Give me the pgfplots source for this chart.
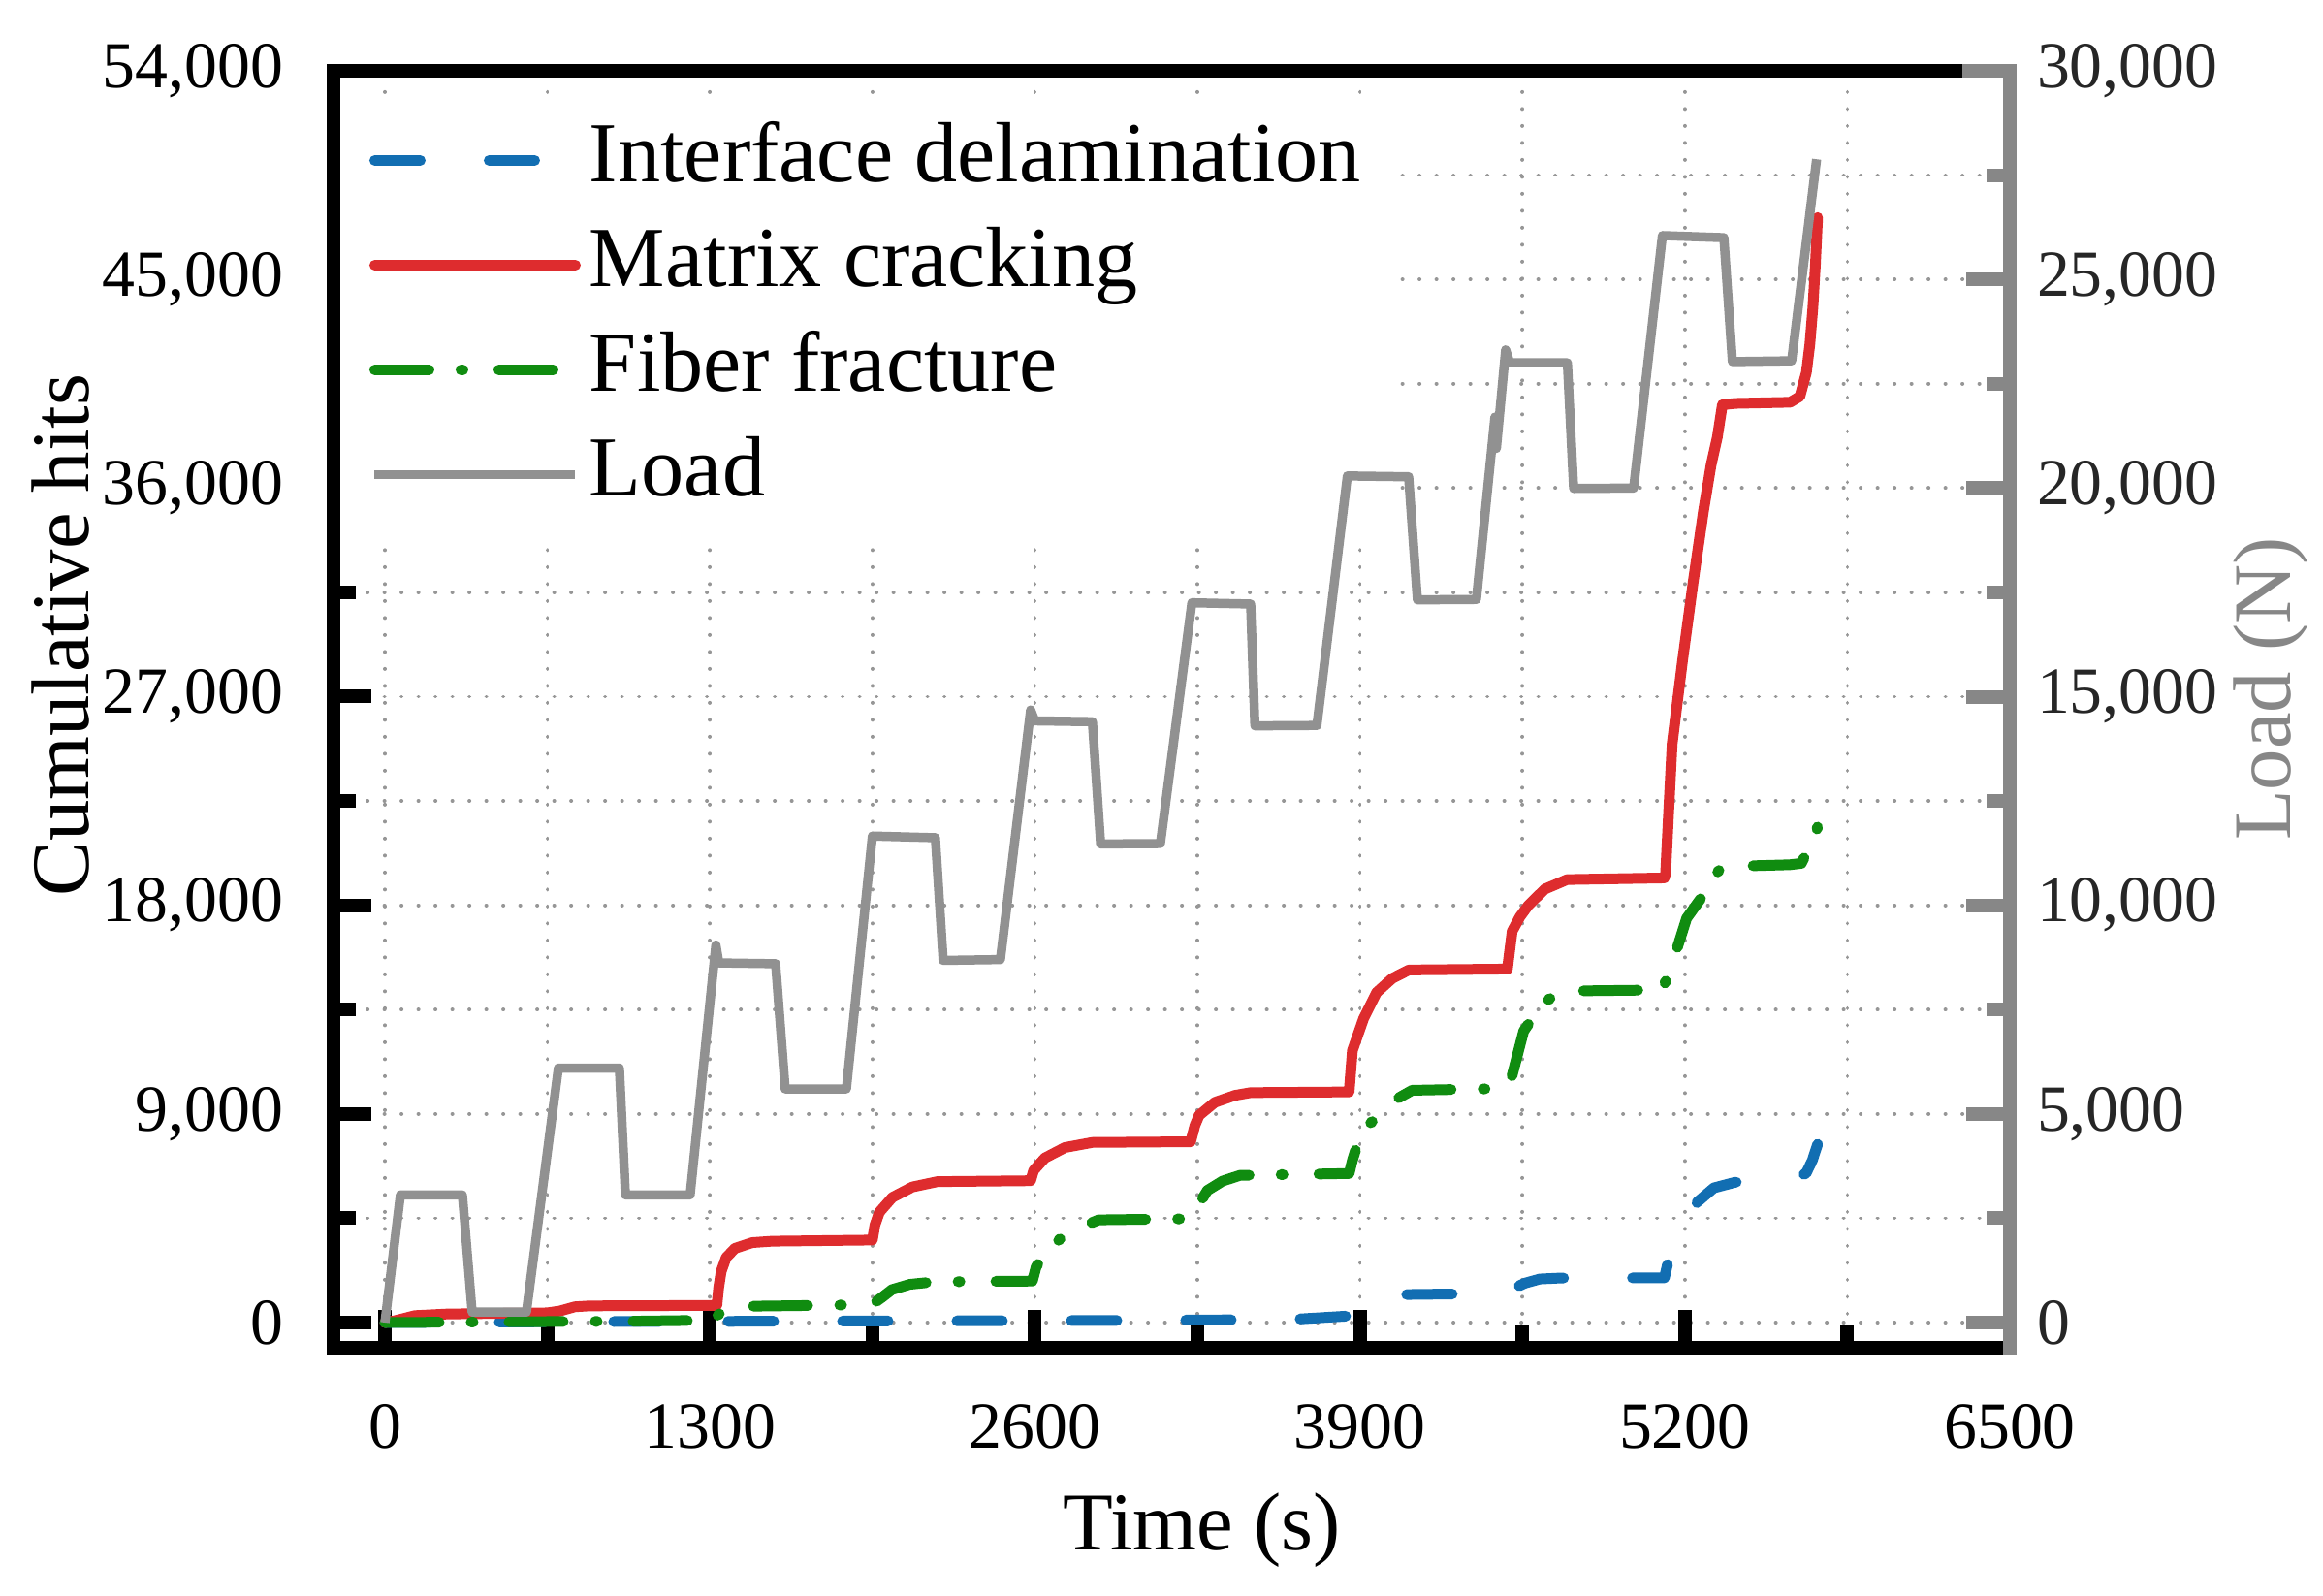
\documentclass[border=0pt]{standalone}
\usepackage{pgfplots}
\pgfplotsset{compat=1.18}
\usepackage{pgfplotstable}
\usepackage{fontspec}
\setmainfont{Liberation Serif}

\definecolor{blueC}{RGB}{18,110,178}
\definecolor{redC}{RGB}{222,44,46}
\definecolor{greenC}{RGB}{16,140,16}
\definecolor{loadC}{RGB}{145,145,145}
\definecolor{loadaxC}{RGB}{135,135,135}
\definecolor{gridC}{RGB}{150,150,150}

\pgfplotstableread{
t h
0 0
300 20
800 40
1300 50
2000 70
2600 80
3300 110
3650 150
3850 280
3890 400
3920 800
3950 1100
4000 1200
4480 1260
4520 1500
4560 1700
4620 1880
4700 1920
5118 1930
5137 2800
5207 4430
5250 5200
5316 5810
5400 6050
5505 6140
5630 6180
5685 6440
5710 7000
5731 7690
}\blued

\pgfplotstableread{
t h
0 0
40 80
120 300
250 370
650 420
700 500
760 680
820 720
1328 740
1335 1500
1345 2200
1365 2800
1400 3200
1470 3450
1550 3510
1950 3560
1960 4200
1978 4760
2030 5400
2110 5850
2210 6080
2583 6120
2595 6560
2640 7100
2720 7550
2830 7770
3223 7800
3240 8500
3257 8940
3320 9500
3400 9800
3463 9920
3857 9950
3870 11730
3915 13120
3967 14240
4030 14850
4096 15210
4490 15250
4509 16880
4540 17500
4574 18000
4640 18700
4729 19110
5118 19180
5123 19390
5135 22000
5149 24960
5190 28500
5233 31930
5274 34980
5305 37000
5330 38200
5350 39590
5400 39650
5621 39700
5660 39950
5686 40980
5700 42200
5712 43770
5722 45600
5731 47670
}\redd

\pgfplotstableread{
t h
0 0
300 20
600 40
1000 60
1300 100
1330 300
1350 500
1420 700
1800 750
1950 790
1990 1100
2028 1420
2100 1650
2200 1760
2590 1790
2605 2400
2641 3000
2700 3600
2780 4100
2855 4430
3230 4480
3250 5000
3290 5700
3350 6100
3420 6350
3857 6430
3870 7000
3896 7900
3930 8500
3980 8940
4040 9600
4109 10020
4490 10100
4505 10500
4555 12570
4607 13400
4650 13900
4704 14300
5110 14350
5150 15500
5207 17440
5272 18415
5320 19300
5350 19670
5620 19750
5666 19810
5724 21060
5731 21400
}\greend

\pgfplotstableread{
t l
0 0
62 3060
310 3060
349 250
566 250
694 6100
938 6100
962 3060
1221 3060
1318 8700
1324 9050
1336 8620
1563 8600
1601 5600
1846 5600
1950 11660
2202 11620
2233 8680
2462 8700
2583 14680
2600 14420
2830 14400
2863 11470
3102 11480
3228 17250
3463 17220
3480 14300
3728 14310
3850 20290
4095 20270
4130 17320
4366 17330
4440 21700
4446 20950
4483 23310
4500 23000
4730 23000
4755 19990
4995 20000
5110 26050
5356 26000
5390 23030
5627 23050
5727 27880
}\loadd

\begin{document}
\begin{tikzpicture}
\begin{axis}[
  scale only axis, width=345.8bp, height=263.4bp,
  xmin=-205.5, xmax=6500, ymin=-1087, ymax=54000,
  axis x line*=box, axis y line*=left,
  xtick={0,1300,...,6500}, ytick={0,9000,...,54000},
  minor x tick num=1, minor y tick num=1,
  xtick pos=left, ytick pos=left,
  tick align=inside,
  major tick length=7.8bp, minor tick length=4.6bp,
  tick style={black, line width=2.8bp},
  axis line style={black, line width=2.8bp, line cap=rect},
  grid=both,
  major grid style={gridC, line width=0.75bp, line cap=round, dash pattern=on 0.05bp off 3.45bp},
  minor grid style={gridC, line width=0.75bp, line cap=round, dash pattern=on 0.05bp off 3.45bp},
  scaled ticks=false,
  /pgf/number format/assume math mode=true,
  /pgf/number format/1000 sep={,},
  tick label style={font=\fontsize{13.6}{16}\selectfont, black},
  xticklabel style={anchor=north, inner sep=0pt, yshift=-11.4bp, /pgf/number format/1000 sep={}},
  yticklabel style={anchor=east, inner sep=0pt, xshift=-10.2bp},
  xlabel={Time (s)},
  xlabel style={at={([yshift=-41.6bp]axis description cs:0.518,0)}, anchor=base, inner sep=0pt, font=\fontsize{17}{20}\selectfont},
  ylabel={Cumulative hits},
  ylabel style={at={([xshift=-50.4bp]axis description cs:0,0.558)}, anchor=base, inner sep=0pt, font=\fontsize{17}{20}\selectfont},
  legend cell align=left,
  legend image code/.code={\draw[#1] (0bp,0bp) -- (41.4bp,0bp);},
  legend style={at={(axis description cs:0,1)}, anchor=north west, xshift=1.2bp, yshift=-5.8bp,
    inner xsep=6bp, inner ysep=4bp, draw=none, fill=white,
    font=\fontsize{17.7}{21}\selectfont, row sep=4.6bp, column sep=1.8bp,
    nodes={inner sep=0pt, text height=13bp, text depth=4bp}},
]
\coordinate (SW) at (rel axis cs:0,0);
\addplot[blueC, line width=2.2bp, line cap=round, line join=round, dash pattern=on 9.4bp off 14.2bp] table[x=t,y=h]{\blued};
\addlegendentry{Interface delamination}
\addplot[redC, line width=2.2bp, line cap=round, line join=round] table[x=t,y=h]{\redd};
\addlegendentry{Matrix cracking}
\addplot[greenC, line width=2.2bp, line cap=round, line join=round, dash pattern=on 11.2bp off 6.6bp on 0.4bp off 7.4bp] table[x=t,y=h]{\greend};
\addlegendentry{Fiber fracture}
\addlegendimage{loadC, line width=1.7bp}
\addlegendentry{Load}
\end{axis}
\begin{axis}[
  scale only axis, width=345.8bp, height=263.4bp,
  xmin=-205.5, xmax=6500, ymin=-604, ymax=30000,
  axis x line=none, axis y line*=right,
  ytick={0,5000,...,30000}, minor y tick num=1, ytick pos=right,
  tick align=inside,
  major tick length=9bp, minor tick length=4.8bp,
  tick style={loadaxC, line width=2.8bp},
  axis line style={loadaxC, line width=2.8bp, line cap=rect},
  scaled ticks=false,
  /pgf/number format/assume math mode=true,
  /pgf/number format/1000 sep={,},
  tick label style={font=\fontsize{13.6}{16}\selectfont, black!85},
  yticklabel style={anchor=west, inner sep=0pt, xshift=5.4bp},
  ylabel={Load (N)},
  ylabel style={at={([xshift=57.8bp]axis description cs:1,0.516)}, anchor=base, inner sep=0pt, font=\fontsize{17}{20}\selectfont, loadaxC},
  clip=false,
]
\addplot[loadC, line width=1.9bp, line join=round] table[x=t,y=l]{\loadd};
\draw[loadaxC, line width=2.8bp, line cap=rect] (rel axis cs:0.9757,1) -- (rel axis cs:1,1);
\end{axis}
\pgfresetboundingbox
\path (SW) ++(-68.8bp,-51.2bp) rectangle ++(479.2bp,329.2bp);
\end{tikzpicture}
\end{document}
